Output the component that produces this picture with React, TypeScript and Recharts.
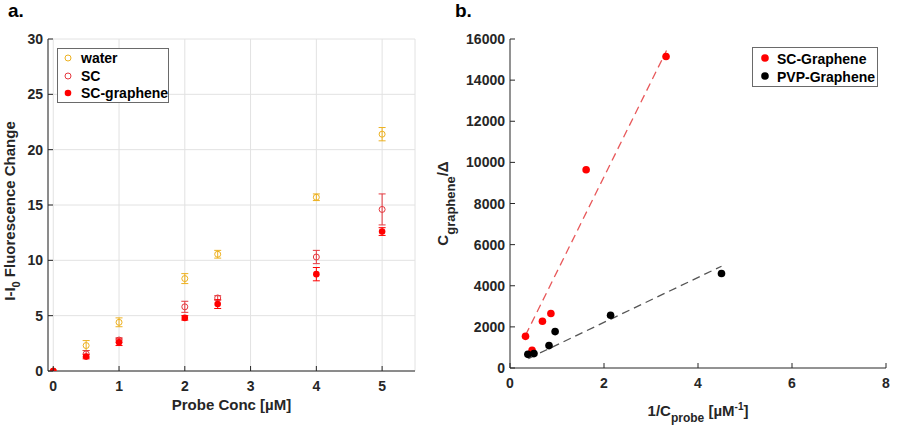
import React from 'react';
import { ScatterChart, Scatter, XAxis, YAxis, CartesianGrid, ErrorBar } from 'recharts';

// ---------- Panel a data ----------
const concA = [0, 0.5, 1, 2, 2.5, 4, 5];
const waterVals = [0, 2.3, 4.4, 8.35, 10.55, 15.7, 21.4];
const waterErr = [0, 0.45, 0.4, 0.45, 0.35, 0.3, 0.6];
const scVals = [0, 1.55, 2.8, 5.8, 6.6, 10.3, 14.6];
const scErr = [0, 0.3, 0.2, 0.5, 0.2, 0.6, 1.4];
const scgVals = [0, 1.3, 2.6, 4.8, 6.05, 8.75, 12.6];
const scgErr = [0, 0.2, 0.3, 0.2, 0.4, 0.6, 0.35];
const ticksAX = [0, 1, 2, 3, 4, 5];
const ticksAY = [0, 5, 10, 15, 20, 25, 30];

// ---------- Panel b data ----------
const scInv = [0.33, 0.47, 0.69, 0.87, 1.62, 3.32];
const scRatio = [1540, 860, 2270, 2650, 9640, 15150];
const pvpInv = [0.38, 0.51, 0.83, 0.96, 2.14, 4.5];
const pvpRatio = [665, 700, 1090, 1770, 2565, 4595];
const scFitX = [0.33, 3.33];
const scFitY = [1590, 15440];
const pvpFitX = [0.39, 4.5];
const pvpFitY = [460, 4950];
const ticksBX = [0, 2, 4, 6, 8];
const ticksBY = [0, 2000, 4000, 6000, 8000, 10000, 12000, 14000, 16000];

const FONT = '"Liberation Sans", Arial, Helvetica, sans-serif';
const AX = '#262626';
const ORANGE = '#EDB120';
const SCRED = '#E5383E';
const RED = '#FF0000';

const mk = (xs: number[], ys: number[], es?: number[]) =>
  xs.map((x, i) => ({ x, y: ys[i], err: es ? es[i] : 0 }));

const waterData = mk(concA, waterVals, waterErr);
const scData = mk(concA, scVals, scErr);
const scgData = mk(concA, scgVals, scgErr);
const scBData = mk(scInv, scRatio);
const pvpBData = mk(pvpInv, pvpRatio);
const scFitData = mk(scFitX, scFitY);
const pvpFitData = mk(pvpFitX, pvpFitY);

const textStyle = { fontFamily: FONT, fontWeight: 700 as const, fill: AX };

function makeTick(side: 'bottom' | 'left' | 'top' | 'right', withLabel: boolean) {
  return (props: any) => {
    const { x, y, payload } = props;
    const L = 5;
    let line: React.ReactNode = null;
    let text: React.ReactNode = null;
    if (side === 'bottom') {
      line = <line x1={x} y1={y} x2={x} y2={y - L} stroke={AX} />;
      if (withLabel)
        text = (
          <text x={x} y={y + 20} textAnchor="middle" fontSize={14} {...textStyle}>
            {payload.value}
          </text>
        );
    } else if (side === 'left') {
      line = <line x1={x} y1={y} x2={x + L} y2={y} stroke={AX} />;
      if (withLabel)
        text = (
          <text x={x - 5} y={y + 5} textAnchor="end" fontSize={14} {...textStyle}>
            {payload.value}
          </text>
        );
    } else if (side === 'top') {
      line = <line x1={x} y1={y} x2={x} y2={y + L} stroke={AX} />;
    } else {
      line = <line x1={x} y1={y} x2={x - L} y2={y} stroke={AX} />;
    }
    return (
      <g>
        {line}
        {text}
      </g>
    );
  };
}

const openCircle = (color: string, r: number) => (p: any) =>
  <circle cx={p.cx} cy={p.cy} r={r} fill="none" stroke={color} strokeWidth={1} />;
const dot = (color: string, r: number) => (p: any) =>
  <circle cx={p.cx} cy={p.cy} r={r} fill={color} stroke="none" />;
const noShape = () => <g />;

const XLabelA = (props: any) => {
  const vb = props.viewBox;
  return (
    <text x={vb.x + vb.width / 2} y={vb.y + 39} textAnchor="middle" fontSize={15} {...textStyle}>
      Probe Conc [µM]
    </text>
  );
};

const YLabelA = (props: any) => {
  const vb = props.viewBox;
  const cy = vb.y + vb.height / 2 + 6;
  return (
    <text x={15} y={cy} transform={`rotate(-90 15 ${cy})`} textAnchor="middle" fontSize={15} {...textStyle}>
      I-I
      <tspan fontSize={11} dy={5}>0</tspan>
      <tspan dy={-5}> Fluorescence Change</tspan>
    </text>
  );
};

const XLabelB = (props: any) => {
  const vb = props.viewBox;
  return (
    <text x={vb.x + vb.width / 2} y={vb.y + 48} textAnchor="middle" fontSize={15} {...textStyle}>
      1/C
      <tspan fontSize={12} dy={6}>probe</tspan>
      <tspan dy={-6}> [µM</tspan>
      <tspan fontSize={10} dy={-6}>-1</tspan>
      <tspan dy={6}>]</tspan>
    </text>
  );
};

const YLabelB = (props: any) => {
  const vb = props.viewBox;
  const cy = vb.y + vb.height / 2;
  const bx = 28;
  return (
    <text x={bx} y={cy} transform={`rotate(-90 ${bx} ${cy})`} textAnchor="middle" fontSize={15} {...textStyle}>
      C
      <tspan fontSize={13} dy={7}>graphene</tspan>
      <tspan dy={-7}>/Δ</tspan>
    </text>
  );
};

const legendText = { fontFamily: FONT, fontWeight: 700 as const, fontSize: 14, fill: '#000' };

export default function App() {
  return (
    <div style={{ position: 'absolute', left: 0, top: 0, width: 900, height: 426, background: '#fff' }}>
      {/* Panel a */}
      <div style={{ position: 'absolute', left: 0, top: 0 }}>
        <ScatterChart width={420} height={426} margin={{ top: 39, right: 5, bottom: 0, left: 0 }}>
          <CartesianGrid stroke="#e2e2e2" />
          <XAxis
            dataKey="x"
            type="number"
            domain={[-0.08, 5.5]}
            ticks={ticksAX}
            allowDataOverflow
            height={55}
            tickSize={0}
            tickMargin={0}
            tickLine={false}
            axisLine={{ stroke: AX }}
            tick={makeTick('bottom', true)}
            label={<XLabelA />}
          />
          <XAxis
            xAxisId="top"
            orientation="top"
            dataKey="x"
            type="number"
            domain={[-0.08, 5.5]}
            ticks={ticksAX}
            allowDataOverflow
            height={0}
            tickSize={0}
            tickMargin={0}
            tickLine={false}
            axisLine={{ stroke: AX }}
            tick={makeTick('top', false)}
          />
          <YAxis
            dataKey="y"
            type="number"
            domain={[0, 30]}
            ticks={ticksAY}
            allowDataOverflow
            width={48}
            tickSize={0}
            tickMargin={0}
            tickLine={false}
            axisLine={{ stroke: AX }}
            tick={makeTick('left', true)}
            label={<YLabelA />}
          />
          <YAxis
            yAxisId="right"
            orientation="right"
            dataKey="y"
            type="number"
            domain={[0, 30]}
            ticks={ticksAY}
            allowDataOverflow
            width={0}
            tickSize={0}
            tickMargin={0}
            tickLine={false}
            axisLine={{ stroke: AX }}
            tick={makeTick('right', false)}
          />
          <Scatter data={waterData} shape={openCircle(ORANGE, 3)} isAnimationActive={false}>
            <ErrorBar dataKey="err" direction="y" width={3.5} stroke={ORANGE} strokeWidth={1} />
          </Scatter>
          <Scatter data={scData} shape={openCircle(SCRED, 3)} isAnimationActive={false}>
            <ErrorBar dataKey="err" direction="y" width={3.5} stroke={SCRED} strokeWidth={1} />
          </Scatter>
          <Scatter data={scgData} shape={dot(RED, 3.3)} isAnimationActive={false}>
            <ErrorBar dataKey="err" direction="y" width={3.5} stroke={RED} strokeWidth={1} />
          </Scatter>
        </ScatterChart>
      </div>

      {/* Panel b */}
      <div style={{ position: 'absolute', left: 420, top: 0 }}>
        <ScatterChart width={480} height={426} margin={{ top: 39, right: 14, bottom: 0, left: 0 }}>
          <XAxis
            dataKey="x"
            type="number"
            domain={[0, 8]}
            ticks={ticksBX}
            allowDataOverflow
            height={58}
            tickSize={0}
            tickMargin={0}
            tickLine={false}
            axisLine={{ stroke: AX }}
            tick={makeTick('bottom', true)}
            label={<XLabelB />}
          />
          <XAxis
            xAxisId="top"
            orientation="top"
            dataKey="x"
            type="number"
            domain={[0, 8]}
            ticks={ticksBX}
            allowDataOverflow
            height={0}
            tickSize={0}
            tickMargin={0}
            tickLine={false}
            axisLine={{ stroke: AX }}
            tick={makeTick('top', false)}
          />
          <YAxis
            dataKey="y"
            type="number"
            domain={[0, 16000]}
            ticks={ticksBY}
            allowDataOverflow
            width={90}
            tickSize={0}
            tickMargin={0}
            tickLine={false}
            axisLine={{ stroke: AX }}
            tick={makeTick('left', true)}
            label={<YLabelB />}
          />
          <YAxis
            yAxisId="right"
            orientation="right"
            dataKey="y"
            type="number"
            domain={[0, 16000]}
            ticks={ticksBY}
            allowDataOverflow
            width={0}
            tickSize={0}
            tickMargin={0}
            tickLine={false}
            axisLine={{ stroke: AX }}
            tick={makeTick('right', false)}
          />
          <Scatter
            data={scFitData}
            shape={noShape}
            line={{ stroke: '#E8585A', strokeWidth: 1.3, strokeDasharray: '8 5' }}
            isAnimationActive={false}
          />
          <Scatter
            data={pvpFitData}
            shape={noShape}
            line={{ stroke: '#555555', strokeWidth: 1.3, strokeDasharray: '8 5' }}
            isAnimationActive={false}
          />
          <Scatter data={scBData} shape={dot(RED, 3.8)} isAnimationActive={false} />
          <Scatter data={pvpBData} shape={dot('#000000', 3.8)} isAnimationActive={false} />
        </ScatterChart>
      </div>

      {/* Overlay: panel letters and legends */}
      <svg width={900} height={426} style={{ position: 'absolute', left: 0, top: 0, pointerEvents: 'none' }}>
        <text x={8} y={17} fontSize={19} fontFamily={FONT} fontWeight={700} fill="#000">a.</text>
        <text x={455} y={17} fontSize={19} fontFamily={FONT} fontWeight={700} fill="#000">b.</text>

        <rect x={57.5} y={48.5} width={111} height={54} fill="#fff" stroke="#6a6a6a" strokeWidth={1} />
        <circle cx={68} cy={58} r={3} fill="none" stroke={ORANGE} />
        <text x={81} y={63} {...legendText}>water</text>
        <circle cx={68} cy={76} r={3} fill="none" stroke={SCRED} />
        <text x={81} y={81} {...legendText}>SC</text>
        <circle cx={68} cy={93} r={3.3} fill={RED} />
        <text x={81} y={98} {...legendText}>SC-graphene</text>

        <rect x={752.5} y={47.5} width={125} height={39} fill="#fff" stroke="#6a6a6a" strokeWidth={1} />
        <circle cx={765} cy={58} r={3.8} fill={RED} />
        <text x={777} y={64} {...legendText}>SC-Graphene</text>
        <circle cx={765} cy={76} r={3.8} fill="#000" />
        <text x={777} y={82} {...legendText}>PVP-Graphene</text>
      </svg>
    </div>
  );
}
